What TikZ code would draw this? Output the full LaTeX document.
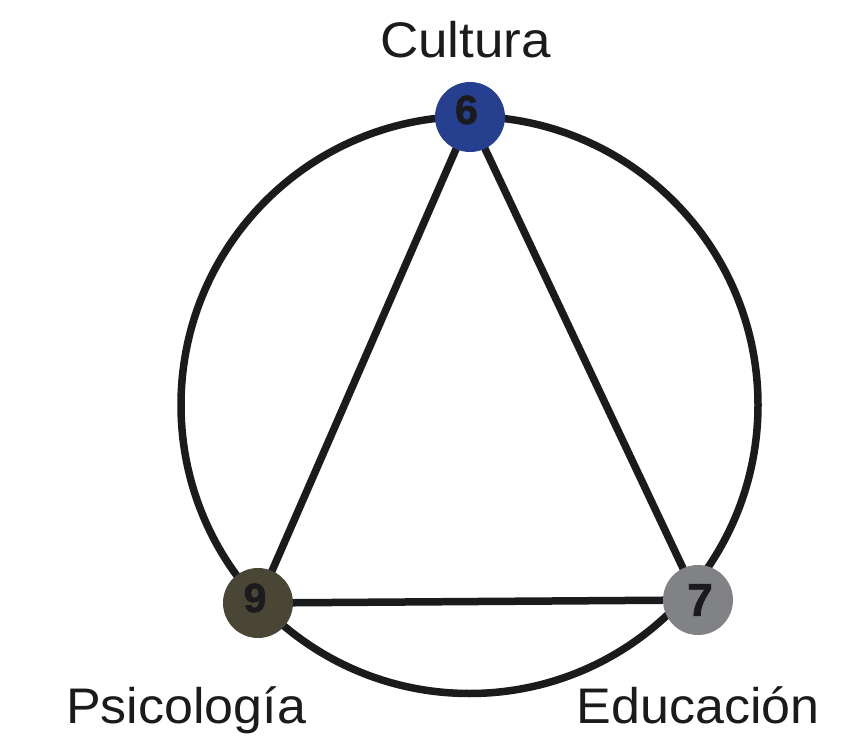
\documentclass[tikz,border=0pt]{standalone}
\usepackage{fontspec}
\setmainfont{Liberation Sans}
\newfontfamily\heavyfont[FakeBold=1.5]{Liberation Sans Bold}
\definecolor{cblue}{HTML}{26408F}
\definecolor{colive}{HTML}{4A4636}
\definecolor{cgray}{HTML}{808286}
\definecolor{cink}{HTML}{1B1A1C}
\begin{document}
\begin{tikzpicture}[x=1pt,y=-1pt,
  edge/.style={draw=cink,line width=7.5pt},
  vert/.style={circle,inner sep=0pt,minimum size=70pt},
  num/.style={inner sep=0pt,font=\fontsize{41}{41}\heavyfont,text=cink},
  lab/.style={inner sep=0pt,anchor=base,font=\fontsize{50}{50}\selectfont,text=cink}]
\useasboundingbox (0,0) rectangle (854,743);
\coordinate (c) at (469.5,405);
\draw[edge] (c) circle[radius=288.5];
\node[vert] (n6) at (470,117) {};
\node[vert] (n9) at (258,603) {};
\node[vert] (n7) at (698,600) {};
\draw[edge] (n6.center) -- (n9.center) -- (n7.center) -- cycle;
\fill[cblue] (n6) circle[radius=35];
\fill[colive] (n9) circle[radius=35];
\fill[cgray] (n7) circle[radius=35];
\node[num] (d6) at (466.5,110) {6};
\node[num] (d9) at (255,598) {9};
\node[num,font=\fontsize{46}{46}\heavyfont] (d7) at (700,600) {7};
\node[lab] (cult) at (465.5,58) {\scalebox{1.06}[1]{Cultura}};
\node[lab] (psi) at (186,723) {\scalebox{1.04}[1]{Psicología}};
\node[lab] (edu) at (698,723) {\scalebox{1.04}[1]{Educación}};
\end{tikzpicture}
\end{document}
